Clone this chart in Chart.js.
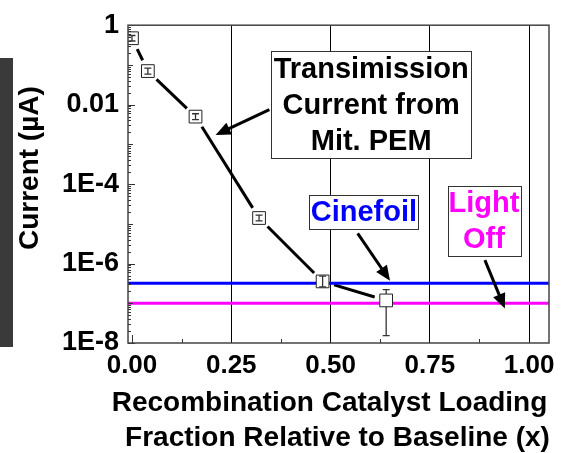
<!DOCTYPE html>
<html>
<head>
<meta charset="utf-8">
<title>Transmission current vs catalyst loading</title>
<script src="https://cdn.jsdelivr.net/npm/chart.js@4.4.1/dist/chart.umd.min.js"></script>
<style>
  html, body { margin: 0; padding: 0; background: #fff; }
  #wrap { position: relative; width: 563px; height: 453px; overflow: hidden; }
  #wrap canvas { position: absolute; left: 0; top: 0; }
  #edgeBar { position: absolute; left: 0; top: 58px; width: 13px; height: 289px; background: #3a3a3a; }
</style>
</head>
<body>
<div id="wrap">
  <canvas id="chart" width="563" height="453"></canvas>
  <div id="edgeBar"></div>
</div>
<script>
// measured transmission current through the mitigated PEM
const loadingFraction = [0, 0.04, 0.16, 0.32, 0.48, 0.64];
const currentMicroAmp = [0.47, 0.070, 0.0050, 1.4e-5, 3.55e-7, 1.18e-7];
const currentLow  = [0.40, 0.059, 0.0042, 1.18e-5, 2.6e-7, 1.54e-8];
const currentHigh = [0.55, 0.083, 0.0059, 1.66e-5, 4.8e-7, 2.2e-7];

// reference levels
const cinefoilLevel = 3.2e-7;
const lightOffLevel = 1.0e-7;

const xTickValues = [0, 0.25, 0.5, 0.75, 1.0];
const yTickValues = [1, 1e-2, 1e-4, 1e-6, 1e-8];
const yTickLabels = ['1', '0.01', '1E-4', '1E-6', '1E-8'];

const xMin = -0.01, xMax = 1.05;
const yMin = 1e-8, yMax = 1;

const chartFont = '"Liberation Sans", Arial, sans-serif';
const markerRadius = 9;
const markerHalf = markerRadius * Math.SQRT1_2;

// callout boxes, placed in data units
const notes = [
  { lines: ['Transimission', 'Current from', 'Mit. PEM'], color: '#000',
    x0: 0.3505, x1: 0.854, yTop: 0.22, yBottom: 4.4e-4,
    from: [0.346, 7.5e-3], to: [0.2105, 1.73e-3] },
  { lines: ['Cinefoil'], color: '#0000ff',
    x0: 0.4468, x1: 0.721, yTop: 5.35e-5, yBottom: 7.4e-6,
    from: [0.5683, 5.78e-6], to: [0.6497, 3.69e-7] },
  { lines: ['Light', 'Off'], color: '#ff00ff',
    x0: 0.7946, x1: 0.9774, yTop: 9.1e-5, yBottom: 1.54e-6,
    from: [0.8886, 1.22e-6], to: [0.9389, 7.35e-8] }
];

function xPix(chart, v) { return chart.scales.x.getPixelForValue(v); }
function yPix(chart, v) { return chart.scales.y.getPixelForValue(v); }

function drawArrow(ctx, x0, y0, x1, y1) {
  const head = 15, half = 6.5;
  const len = Math.hypot(x1 - x0, y1 - y0);
  const ux = (x1 - x0) / len, uy = (y1 - y0) / len;
  const bx = x1 - ux * head, by = y1 - uy * head;
  ctx.beginPath();
  ctx.moveTo(x0, y0);
  ctx.lineTo(bx + ux * 2, by + uy * 2);
  ctx.stroke();
  ctx.beginPath();
  ctx.moveTo(x1, y1);
  ctx.lineTo(bx - uy * half, by + ux * half);
  ctx.lineTo(bx + uy * half, by - ux * half);
  ctx.closePath();
  ctx.fill();
}

// connecting line that stops short of each marker
const gappedLine = {
  id: 'gappedLine',
  beforeDatasetsDraw(chart) {
    const ctx = chart.ctx;
    const a = chart.chartArea;
    const gap = 12;
    ctx.save();
    ctx.beginPath();
    ctx.rect(a.left, a.top, a.right - a.left, a.bottom - a.top);
    ctx.clip();
    ctx.strokeStyle = '#000';
    ctx.lineWidth = 3;
    for (let i = 0; i < loadingFraction.length - 1; i++) {
      const x0 = xPix(chart, loadingFraction[i]), y0 = yPix(chart, currentMicroAmp[i]);
      const x1 = xPix(chart, loadingFraction[i + 1]), y1 = yPix(chart, currentMicroAmp[i + 1]);
      const len = Math.hypot(x1 - x0, y1 - y0);
      if (len <= gap * 2) continue;
      const ux = (x1 - x0) / len, uy = (y1 - y0) / len;
      ctx.beginPath();
      ctx.moveTo(x0 + ux * gap, y0 + uy * gap);
      ctx.lineTo(x1 - ux * gap, y1 - uy * gap);
      ctx.stroke();
    }
    ctx.restore();
  }
};

// vertical error bars on top of the square markers
const errorBars = {
  id: 'errorBars',
  afterDatasetsDraw(chart) {
    const ctx = chart.ctx;
    ctx.save();
    ctx.strokeStyle = '#333';
    ctx.lineWidth = 1.3;
    for (let i = 0; i < loadingFraction.length; i++) {
      const x = xPix(chart, loadingFraction[i]);
      const yc = yPix(chart, currentMicroAmp[i]);
      const yHi = yPix(chart, currentHigh[i]);
      const yLo = yPix(chart, currentLow[i]);
      const cap = 3.5;
      ctx.beginPath();
      if (yc - yHi > markerHalf) {
        ctx.moveTo(x, yc - markerHalf); ctx.lineTo(x, yHi);
      } else {
        ctx.moveTo(x, yc); ctx.lineTo(x, yHi);
      }
      if (yLo - yc > markerHalf) {
        ctx.moveTo(x, yc + markerHalf); ctx.lineTo(x, yLo);
      } else {
        ctx.moveTo(x, yc); ctx.lineTo(x, yLo);
      }
      ctx.moveTo(x - cap, yHi); ctx.lineTo(x + cap, yHi);
      ctx.moveTo(x - cap, yLo); ctx.lineTo(x + cap, yLo);
      ctx.stroke();
    }
    ctx.restore();
  }
};

// frame, inward minor ticks, callouts and axis titles
const decorations = {
  id: 'decorations',
  afterDraw(chart) {
    const ctx = chart.ctx;
    const a = chart.chartArea;
    ctx.save();

    // minor ticks on the bottom axis
    ctx.strokeStyle = '#333';
    ctx.lineWidth = 1;
    ctx.beginPath();
    for (let i = 0; i < xTickValues.length - 1; i++) {
      const mid = (xTickValues[i] + xTickValues[i + 1]) / 2;
      const px = Math.round(xPix(chart, mid)) + 0.5;
      ctx.moveTo(px, a.bottom); ctx.lineTo(px, a.bottom - 4);
    }
    const px0 = Math.round(xPix(chart, xTickValues[0])) + 0.5;
    ctx.moveTo(px0, a.bottom); ctx.lineTo(px0, a.bottom - 8);
    ctx.stroke();

    // log ticks on the left axis
    ctx.beginPath();
    for (let e = -8; e <= 0; e++) {
      for (let m = 1; m <= 9; m++) {
        const v = m * Math.pow(10, e);
        if (v > yMax * 1.0001) break;
        const py = Math.round(yPix(chart, v)) + 0.5;
        let len = 3;
        if (m === 1) len = (e % 2 === 0) ? 7 : 5;
        ctx.moveTo(a.left, py); ctx.lineTo(a.left + len, py);
      }
    }
    ctx.stroke();

    // plot frame
    ctx.strokeStyle = '#444';
    ctx.lineWidth = 1.5;
    ctx.strokeRect(a.left, a.top, a.right - a.left, a.bottom - a.top);

    // callouts
    notes.forEach(n => {
      const left = xPix(chart, n.x0), right = xPix(chart, n.x1);
      const top = yPix(chart, n.yTop), bottom = yPix(chart, n.yBottom);
      ctx.fillStyle = '#fff';
      ctx.fillRect(left, top, right - left, bottom - top);
      ctx.strokeStyle = '#333';
      ctx.lineWidth = 1;
      ctx.strokeRect(Math.round(left) + 0.5, Math.round(top) + 0.5, Math.round(right - left), Math.round(bottom - top));
      ctx.font = 'bold 29px ' + chartFont;
      ctx.fillStyle = n.color;
      ctx.textAlign = 'center';
      ctx.textBaseline = 'middle';
      const lh = (bottom - top) / n.lines.length;
      n.lines.forEach((t, i) => {
        ctx.fillText(t, (left + right) / 2, top + lh * (i + 0.5) + 1);
      });
      ctx.strokeStyle = '#000';
      ctx.fillStyle = '#000';
      ctx.lineWidth = 3;
      drawArrow(ctx, xPix(chart, n.from[0]), yPix(chart, n.from[1]),
                xPix(chart, n.to[0]), yPix(chart, n.to[1]));
    });

    // axis titles
    ctx.fillStyle = '#000';
    ctx.font = 'bold 28px ' + chartFont;
    ctx.textAlign = 'center';
    ctx.textBaseline = 'middle';
    const cx = (a.left + a.right) / 2;
    ctx.fillText('Recombination Catalyst Loading', cx - 9, a.bottom + 60);
    ctx.fillText('Fraction Relative to Baseline (x)', cx - 1, a.bottom + 95);
    ctx.translate(a.left - 98, (a.top + a.bottom) / 2 - 16);
    ctx.rotate(-Math.PI / 2);
    ctx.fillText('Current (\u00b5A)', 0, 0);
    ctx.restore();
  }
};

const ctx = document.getElementById('chart').getContext('2d');
new Chart(ctx, {
  type: 'scatter',
  data: {
    datasets: [
      {
        label: 'Transmission current',
        data: loadingFraction.map((x, i) => ({ x: x, y: currentMicroAmp[i] })),
        pointStyle: 'rect',
        pointRadius: markerRadius,
        pointBackgroundColor: '#fff',
        pointBorderColor: '#222',
        pointBorderWidth: 1,
        showLine: false,
        clip: 0
      },
      {
        label: 'Cinefoil',
        data: [{ x: xMin, y: cinefoilLevel }, { x: xMax, y: cinefoilLevel }],
        showLine: true,
        borderColor: '#0000ff',
        borderWidth: 3,
        pointRadius: 0
      },
      {
        label: 'Light Off',
        data: [{ x: xMin, y: lightOffLevel }, { x: xMax, y: lightOffLevel }],
        showLine: true,
        borderColor: '#ff00ff',
        borderWidth: 3,
        pointRadius: 0
      }
    ]
  },
  options: {
    responsive: false,
    animation: false,
    devicePixelRatio: 1,
    layout: { padding: { top: 20, right: 14, left: 0, bottom: 0 } },
    plugins: {
      legend: { display: false },
      tooltip: { enabled: false }
    },
    scales: {
      x: {
        type: 'linear',
        min: xMin,
        max: xMax,
        afterFit(scale) { scale.height = 110; },
        afterBuildTicks(scale) { scale.ticks = xTickValues.map(v => ({ value: v })); },
        border: { display: false },
        grid: {
          drawTicks: false,
          lineWidth: 1,
          color: c => (c.tick && c.tick.value !== 0) ? '#000' : 'rgba(0,0,0,0)'
        },
        ticks: {
          padding: 7,
          maxRotation: 0,
          color: '#000',
          font: { family: chartFont, size: 26, weight: 'bold' },
          callback: v => Number(v).toFixed(2)
        }
      },
      y: {
        type: 'logarithmic',
        min: yMin,
        max: yMax,
        afterFit(scale) { scale.width = 128; },
        afterBuildTicks(scale) { scale.ticks = yTickValues.map(v => ({ value: v })); },
        border: { display: false },
        grid: { display: false, drawTicks: false },
        ticks: {
          padding: 9,
          color: '#000',
          font: { family: chartFont, size: 27, weight: 'bold' },
          callback: (v, i) => yTickLabels[i]
        }
      }
    }
  },
  plugins: [gappedLine, errorBars, decorations]
});
</script>
</body>
</html>
